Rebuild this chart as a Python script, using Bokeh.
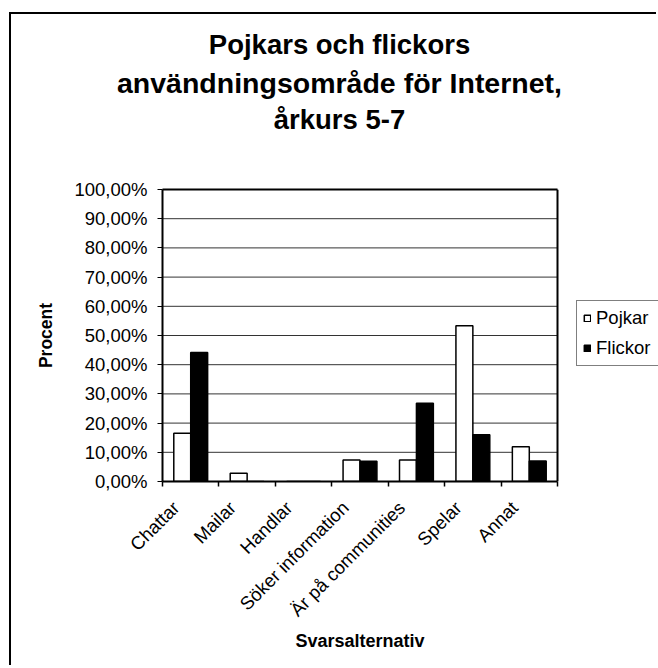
import math
from bokeh.plotting import figure
from bokeh.models import (Range1d, FixedTicker, CustomJSTickFormatter,
                          Legend, LegendItem, ColumnDataSource, LinearAxis)
from bokeh.transform import dodge
from bokeh.embed import file_html
from bokeh.resources import INLINE

# ---- data ----
categories = ["Chattar", "Mailar", "Handlar", "Söker information",
              "Är på communities", "Spelar", "Annat"]
pojkar = [16.5, 2.8, 0.0, 7.4, 7.4, 53.3, 11.9]     # percent
flickor = [44.2, 0.0, 0.0, 6.9, 26.8, 16.0, 7.0]    # percent
series_names = ["Pojkar", "Flickor"]
y_ticks = [0, 10, 20, 30, 40, 50, 60, 70, 80, 90, 100]
title_lines = ["Pojkars och flickors",
               "användningsområde för Internet,",
               "årkurs 5-7"]
x_title = "Svarsalternativ"
y_title = "Procent"

FONT = "Liberation Sans"
N = len(categories)

centers = [i + 0.5 for i in range(N)]
boundaries = list(range(N + 1))
label_pos = [c - 0.26 for c in centers]
src = ColumnDataSource(dict(x=centers, cat=categories, pojkar=pojkar, flickor=flickor))

# frame reaches the right edge so that the legend (inside it) is not clipped
x_end = N * 496 / 395
p = figure(width=647, height=653,
           x_range=Range1d(0, x_end), y_range=Range1d(0, 100),
           output_backend="svg", toolbar_location=None,
           min_border_left=151, min_border_right=0,
           min_border_top=175, min_border_bottom=186)
p.title = None
p.styles = {"margin-left": "9px", "margin-top": "12px",
            "border-left": "2px solid black", "border-top": "2px solid black"}
p.background_fill_color = "white"
p.border_fill_color = "white"
p.outline_line_color = None
p.xgrid.grid_line_color = None
p.ygrid.grid_line_color = None

main_x = p.xaxis[0]
main_y = p.yaxis[0]

# grid lines and right edge of the plot area
p.segment(x0=0, x1=N, y0=y_ticks, y1=y_ticks, line_color="#333333", line_width=1)
p.segment(x0=[N], x1=[N], y0=[y_ticks[0]], y1=[y_ticks[-1]], line_color="black", line_width=2)

r1 = p.vbar(x=dodge("x", -0.15, range=p.x_range), top="pojkar", width=0.3, source=src,
            fill_color="white", line_color="black", line_width=1.5)
r2 = p.vbar(x=dodge("x", 0.15, range=p.x_range), top="flickor", width=0.3, source=src,
            fill_color="black", line_color="black", line_width=1.5)

# y axis
main_y.ticker = FixedTicker(ticks=y_ticks, minor_ticks=[])
main_y.formatter = CustomJSTickFormatter(code="return tick.toFixed(2).replace('.', ',') + '%';")
main_y.major_label_text_font = FONT
main_y.major_label_text_font_size = "18.5px"
main_y.major_label_text_color = "black"
main_y.major_tick_out = 5
main_y.major_tick_in = 0
main_y.major_tick_line_color = "black"
main_y.major_label_standoff = 10
main_y.axis_line_color = "black"
main_y.axis_line_width = 2
main_y.axis_label = y_title
main_y.axis_label_text_font = FONT
main_y.axis_label_text_font_style = "bold"
main_y.axis_label_text_font_size = "17.5px"
main_y.axis_label_text_color = "black"
main_y.axis_label_standoff = 15

# x axis: labels near category centres, tick marks on category boundaries
main_x.bounds = (0, N)
main_x.ticker = FixedTicker(ticks=label_pos, minor_ticks=boundaries)
main_x.major_label_overrides = {c: n for c, n in zip(label_pos, categories)}
main_x.major_tick_line_color = None
main_x.minor_tick_line_color = "black"
main_x.minor_tick_line_width = 1.5
main_x.minor_tick_out = 5
main_x.minor_tick_in = 0
main_x.major_label_orientation = math.pi / 4
main_x.major_label_standoff = 17
main_x.major_label_text_font = FONT
main_x.major_label_text_font_size = "18.5px"
main_x.major_label_text_color = "black"
main_x.axis_line_color = "black"
main_x.axis_line_width = 2


def text_axis(pos, text, size, standoff, line=False):
    ax = LinearAxis(ticker=FixedTicker(ticks=[pos], minor_ticks=[]),
                    major_label_overrides={pos: text},
                    major_tick_out=0, major_tick_in=0, minor_tick_out=0, minor_tick_in=0,
                    major_tick_line_color=None, minor_tick_line_color=None,
                    major_label_standoff=standoff,
                    major_label_text_font=FONT, major_label_text_font_style="bold",
                    major_label_text_font_size=size, major_label_text_color="black",
                    axis_line_color="black" if line else None, axis_line_width=2,
                    bounds=(0, N))
    return ax


# x axis title, centred under the categories
p.add_layout(text_axis(N / 2, x_title, "18px", 0), "below")

# chart title: nearest line first; the first one also draws the top edge of the plot area
title_x = (339 - 162) / (496 / x_end)
title_standoffs = [4, 2, 55]
title_sizes = ["27.5px", "28.5px", "27.5px"]
for line, so, size, edge in reversed(list(zip(title_lines, title_standoffs, title_sizes,
                                               [False, False, True]))):
    p.add_layout(text_axis(title_x, line, size, so, line=edge), "above")

legend = Legend(items=[LegendItem(label=series_names[0], renderers=[r1]),
                       LegendItem(label=series_names[1], renderers=[r2])],
                location=(414, 115))
legend.label_text_font = FONT
legend.label_text_font_size = "18.5px"
legend.label_text_color = "black"
legend.glyph_width = 8
legend.glyph_height = 8
legend.label_height = 22
legend.label_width = 100
legend.spacing = 8
legend.padding = 6
legend.margin = 0
legend.label_standoff = 5
legend.border_line_color = "black"
legend.border_line_width = 1
legend.background_fill_color = "white"
legend.background_fill_alpha = 1
p.add_layout(legend)

open("out.html", "w").write(file_html(p, INLINE))
